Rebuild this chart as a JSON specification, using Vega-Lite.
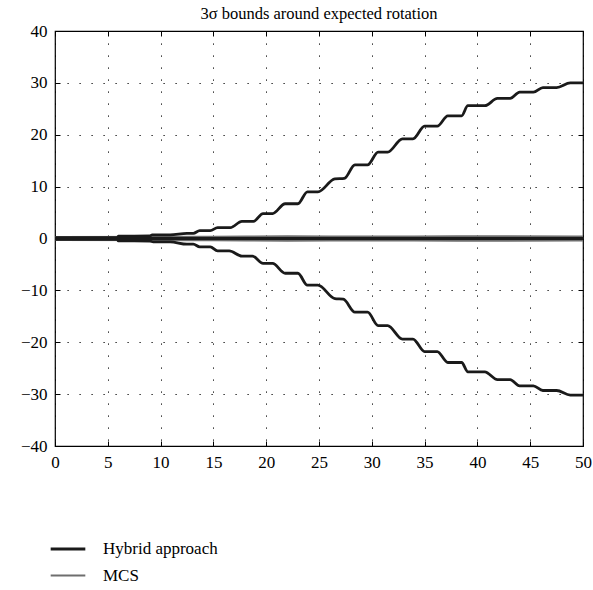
{
  "$schema": "https://vega.github.io/schema/vega-lite/v6.json",
  "width": 528,
  "height": 415,
  "autosize": {"type": "none"},
  "padding": {"left": 55, "top": 31, "right": 10, "bottom": 144},
  "background": "white",
  "config": {
    "view": {"stroke": "black", "strokeWidth": 1.2},
    "font": "'Liberation Serif', 'DejaVu Serif', serif",
    "title": {"font": "'Liberation Serif', 'DejaVu Serif', serif", "fontSize": 16.5, "fontWeight": "normal", "color": "black"},
    "axis": {
      "domain": false,
      "tickColor": "black",
      "tickSize": -5,
      "tickWidth": 1,
      "labelFont": "'Liberation Serif', 'DejaVu Serif', serif",
      "labelFontSize": 17,
      "labelColor": "black",
      "gridColor": "black",
      "gridDash": [1.2, 10.8],
      "gridWidth": 1,
      "gridOpacity": 1,
      "title": null
    },
    "legend": {"labelFont": "'Liberation Serif', 'DejaVu Serif', serif"}
  },
  "title": {
    "text": "3σ bounds around expected rotation",
    "anchor": "middle",
    "offset": 0
  },
  "datasets": {
    "hyb": [
      {"x": 0, "y": 0.15, "s": "up", "g": "Hybrid approach"},
      {"x": 5.9, "y": 0.15, "s": "up", "g": "Hybrid approach"},
      {"x": 6.0, "y": 0.45, "s": "up", "g": "Hybrid approach"},
      {"x": 9.0, "y": 0.5, "s": "up", "g": "Hybrid approach"},
      {"x": 9.2, "y": 0.7, "s": "up", "g": "Hybrid approach"},
      {"x": 10.9, "y": 0.7, "s": "up", "g": "Hybrid approach"},
      {"x": 12.5, "y": 1.0, "s": "up", "g": "Hybrid approach"},
      {"x": 13.1, "y": 1.0, "s": "up", "g": "Hybrid approach"},
      {"x": 13.7, "y": 1.5, "s": "up", "g": "Hybrid approach"},
      {"x": 14.7, "y": 1.5, "s": "up", "g": "Hybrid approach"},
      {"x": 15.4, "y": 2.1, "s": "up", "g": "Hybrid approach"},
      {"x": 16.6, "y": 2.1, "s": "up", "g": "Hybrid approach"},
      {"x": 17.7, "y": 3.3, "s": "up", "g": "Hybrid approach"},
      {"x": 18.8, "y": 3.3, "s": "up", "g": "Hybrid approach"},
      {"x": 19.7, "y": 4.8, "s": "up", "g": "Hybrid approach"},
      {"x": 20.6, "y": 4.8, "s": "up", "g": "Hybrid approach"},
      {"x": 21.8, "y": 6.7, "s": "up", "g": "Hybrid approach"},
      {"x": 23.0, "y": 6.7, "s": "up", "g": "Hybrid approach"},
      {"x": 23.9, "y": 9.0, "s": "up", "g": "Hybrid approach"},
      {"x": 24.9, "y": 9.0, "s": "up", "g": "Hybrid approach"},
      {"x": 26.5, "y": 11.5, "s": "up", "g": "Hybrid approach"},
      {"x": 27.4, "y": 11.6, "s": "up", "g": "Hybrid approach"},
      {"x": 28.4, "y": 14.2, "s": "up", "g": "Hybrid approach"},
      {"x": 29.6, "y": 14.2, "s": "up", "g": "Hybrid approach"},
      {"x": 30.6, "y": 16.65, "s": "up", "g": "Hybrid approach"},
      {"x": 31.5, "y": 16.65, "s": "up", "g": "Hybrid approach"},
      {"x": 32.9, "y": 19.2, "s": "up", "g": "Hybrid approach"},
      {"x": 33.9, "y": 19.2, "s": "up", "g": "Hybrid approach"},
      {"x": 35.0, "y": 21.65, "s": "up", "g": "Hybrid approach"},
      {"x": 36.2, "y": 21.65, "s": "up", "g": "Hybrid approach"},
      {"x": 37.2, "y": 23.65, "s": "up", "g": "Hybrid approach"},
      {"x": 38.5, "y": 23.65, "s": "up", "g": "Hybrid approach"},
      {"x": 39.1, "y": 25.6, "s": "up", "g": "Hybrid approach"},
      {"x": 40.7, "y": 25.6, "s": "up", "g": "Hybrid approach"},
      {"x": 41.9, "y": 27.0, "s": "up", "g": "Hybrid approach"},
      {"x": 43.1, "y": 27.0, "s": "up", "g": "Hybrid approach"},
      {"x": 44.0, "y": 28.2, "s": "up", "g": "Hybrid approach"},
      {"x": 45.3, "y": 28.2, "s": "up", "g": "Hybrid approach"},
      {"x": 46.2, "y": 29.1, "s": "up", "g": "Hybrid approach"},
      {"x": 47.5, "y": 29.1, "s": "up", "g": "Hybrid approach"},
      {"x": 48.8, "y": 30.0, "s": "up", "g": "Hybrid approach"},
      {"x": 50, "y": 30.0, "s": "up", "g": "Hybrid approach"},

      {"x": 0, "y": -0.15, "s": "lo", "g": "Hybrid approach"},
      {"x": 5.9, "y": -0.15, "s": "lo", "g": "Hybrid approach"},
      {"x": 6.0, "y": -0.45, "s": "lo", "g": "Hybrid approach"},
      {"x": 9.0, "y": -0.5, "s": "lo", "g": "Hybrid approach"},
      {"x": 9.3, "y": -0.65, "s": "lo", "g": "Hybrid approach"},
      {"x": 10.9, "y": -0.65, "s": "lo", "g": "Hybrid approach"},
      {"x": 12.5, "y": -1.1, "s": "lo", "g": "Hybrid approach"},
      {"x": 13.1, "y": -1.1, "s": "lo", "g": "Hybrid approach"},
      {"x": 13.7, "y": -1.6, "s": "lo", "g": "Hybrid approach"},
      {"x": 14.7, "y": -1.6, "s": "lo", "g": "Hybrid approach"},
      {"x": 15.4, "y": -2.4, "s": "lo", "g": "Hybrid approach"},
      {"x": 16.5, "y": -2.4, "s": "lo", "g": "Hybrid approach"},
      {"x": 17.7, "y": -3.4, "s": "lo", "g": "Hybrid approach"},
      {"x": 18.7, "y": -3.4, "s": "lo", "g": "Hybrid approach"},
      {"x": 19.7, "y": -4.8, "s": "lo", "g": "Hybrid approach"},
      {"x": 20.6, "y": -4.8, "s": "lo", "g": "Hybrid approach"},
      {"x": 21.8, "y": -6.7, "s": "lo", "g": "Hybrid approach"},
      {"x": 23.0, "y": -6.7, "s": "lo", "g": "Hybrid approach"},
      {"x": 23.9, "y": -9.0, "s": "lo", "g": "Hybrid approach"},
      {"x": 24.9, "y": -9.0, "s": "lo", "g": "Hybrid approach"},
      {"x": 26.5, "y": -11.6, "s": "lo", "g": "Hybrid approach"},
      {"x": 27.3, "y": -11.7, "s": "lo", "g": "Hybrid approach"},
      {"x": 28.4, "y": -14.2, "s": "lo", "g": "Hybrid approach"},
      {"x": 29.6, "y": -14.2, "s": "lo", "g": "Hybrid approach"},
      {"x": 30.6, "y": -16.8, "s": "lo", "g": "Hybrid approach"},
      {"x": 31.5, "y": -16.8, "s": "lo", "g": "Hybrid approach"},
      {"x": 32.9, "y": -19.4, "s": "lo", "g": "Hybrid approach"},
      {"x": 33.9, "y": -19.4, "s": "lo", "g": "Hybrid approach"},
      {"x": 35.0, "y": -21.8, "s": "lo", "g": "Hybrid approach"},
      {"x": 36.2, "y": -21.8, "s": "lo", "g": "Hybrid approach"},
      {"x": 37.2, "y": -23.9, "s": "lo", "g": "Hybrid approach"},
      {"x": 38.5, "y": -23.9, "s": "lo", "g": "Hybrid approach"},
      {"x": 39.1, "y": -25.7, "s": "lo", "g": "Hybrid approach"},
      {"x": 40.7, "y": -25.7, "s": "lo", "g": "Hybrid approach"},
      {"x": 41.9, "y": -27.2, "s": "lo", "g": "Hybrid approach"},
      {"x": 43.1, "y": -27.2, "s": "lo", "g": "Hybrid approach"},
      {"x": 44.0, "y": -28.4, "s": "lo", "g": "Hybrid approach"},
      {"x": 45.3, "y": -28.4, "s": "lo", "g": "Hybrid approach"},
      {"x": 46.2, "y": -29.3, "s": "lo", "g": "Hybrid approach"},
      {"x": 47.5, "y": -29.3, "s": "lo", "g": "Hybrid approach"},
      {"x": 48.8, "y": -30.2, "s": "lo", "g": "Hybrid approach"},
      {"x": 50, "y": -30.2, "s": "lo", "g": "Hybrid approach"},

      {"x": 0, "y": 0, "s": "mid", "g": "Hybrid approach"},
      {"x": 50, "y": 0, "s": "mid", "g": "Hybrid approach"}
    ],
    "mcs": [
      {"x": 0, "y": 0.3, "s": "mup", "g": "MCS"},
      {"x": 15, "y": 0.35, "s": "mup", "g": "MCS"},
      {"x": 22, "y": 0.45, "s": "mup", "g": "MCS"},
      {"x": 30, "y": 0.4, "s": "mup", "g": "MCS"},
      {"x": 38, "y": 0.45, "s": "mup", "g": "MCS"},
      {"x": 50, "y": 0.4, "s": "mup", "g": "MCS"},
      {"x": 0, "y": -0.3, "s": "mlo", "g": "MCS"},
      {"x": 15, "y": -0.35, "s": "mlo", "g": "MCS"},
      {"x": 22, "y": -0.45, "s": "mlo", "g": "MCS"},
      {"x": 30, "y": -0.4, "s": "mlo", "g": "MCS"},
      {"x": 38, "y": -0.45, "s": "mlo", "g": "MCS"},
      {"x": 50, "y": -0.4, "s": "mlo", "g": "MCS"}
    ]
  },
  "layer": [
    {
      "data": {"name": "mcs"},
      "mark": {"type": "line", "clip": true, "interpolate": "monotone"},
      "encoding": {
        "x": {"field": "x", "type": "quantitative", "scale": {"domain": [0, 50], "nice": false},
              "axis": {"orient": "bottom", "values": [0,5,10,15,20,25,30,35,40,45,50], "labelPadding": 13, "grid": true, "labelFlush": false}},
        "y": {"field": "y", "type": "quantitative", "scale": {"domain": [-40, 40], "nice": false},
              "axis": {"orient": "left", "values": [-40,-30,-20,-10,0,10,20,30,40], "labelPadding": 13, "grid": true, "labelExpr": "replace(datum.label, '-', '−')"}},
        "detail": {"field": "s"},
        "color": {"field": "g", "type": "nominal", "scale": {"domain": ["Hybrid approach", "MCS"], "range": ["#1a1a1a", "#6e6e6e"]},
                  "legend": {"orient": "none", "legendX": -6, "legendY": 499, "title": null, "symbolType": "M-1,0L1,0", "symbolSize": 1200, "labelFontSize": 17, "labelColor": "black", "labelOffset": 16, "rowPadding": -2}},
        "strokeWidth": {"field": "g", "type": "nominal", "scale": {"domain": ["Hybrid approach", "MCS"], "range": [2.8, 1.8]},
                  "legend": {"orient": "none", "legendX": -6, "legendY": 499, "title": null, "symbolType": "M-1,0L1,0", "symbolSize": 1200, "labelFontSize": 17, "labelColor": "black", "labelOffset": 16, "rowPadding": -2}}
      }
    },
    {
      "data": {"name": "hyb"},
      "mark": {"type": "line", "clip": true, "interpolate": "monotone"},
      "encoding": {
        "x": {"field": "x", "type": "quantitative", "axis": null},
        "y": {"field": "y", "type": "quantitative", "axis": null},
        "detail": {"field": "s"},
        "color": {"field": "g", "type": "nominal"},
        "strokeWidth": {"field": "g", "type": "nominal"}
      }
    },
    {
      "data": {"name": "mcs"},
      "mark": {"type": "line", "opacity": 0},
      "encoding": {
        "x": {"field": "x", "type": "quantitative", "axis": {"orient": "top", "labels": false, "grid": false, "values": [0,5,10,15,20,25,30,35,40,45,50]}},
        "y": {"field": "y", "type": "quantitative", "axis": {"orient": "right", "labels": false, "grid": false, "values": [-40,-30,-20,-10,0,10,20,30,40]}},
        "detail": {"field": "s"}
      }
    }
  ],
  "resolve": {"axis": {"x": "independent", "y": "independent"}}
}
